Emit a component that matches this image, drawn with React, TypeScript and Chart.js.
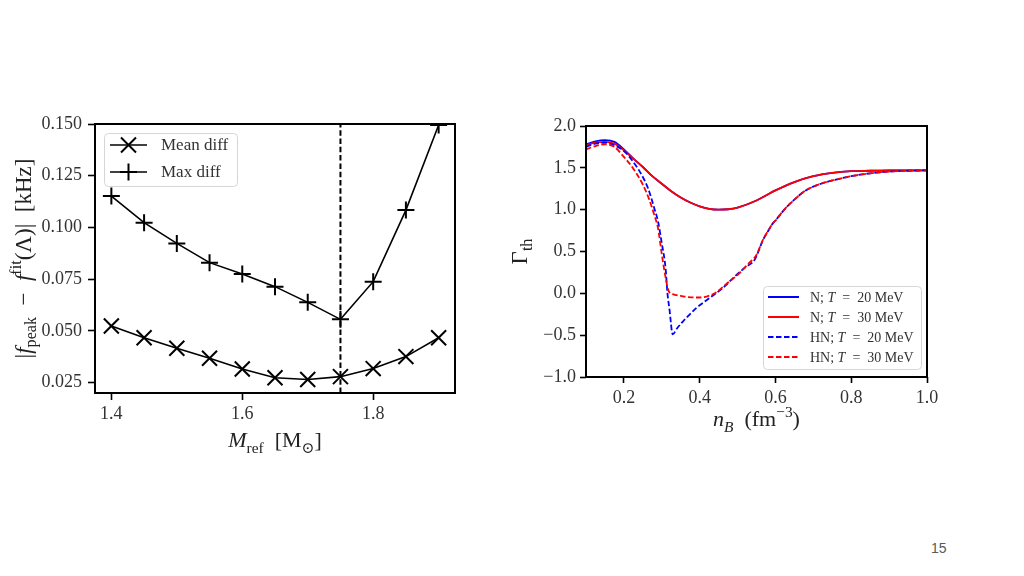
import React, { useEffect, useRef } from 'react';
import { Chart, registerables } from 'chart.js';
Chart.register(...registerables);

// ---------- Left chart data ----------
const mRef = [1.4, 1.45, 1.5, 1.55, 1.6, 1.65, 1.7, 1.75, 1.8, 1.85, 1.9];
const meanDiff = [0.0524, 0.0467, 0.0416, 0.0368, 0.0316, 0.0274, 0.0265, 0.0279, 0.0318, 0.0376, 0.0467];
const maxDiff = [0.1152, 0.1023, 0.0923, 0.083, 0.0775, 0.0714, 0.0638, 0.0556, 0.0738, 0.1084, 0.1495];
const mCut = 1.75;
const leftXRange = [1.375, 1.925];
const leftYRange = [0.02, 0.15];
const leftXTicks = [1.4, 1.6, 1.8];
const leftXLabels = ['1.4', '1.6', '1.8'];
const leftYTicks = [0.025, 0.05, 0.075, 0.1, 0.125, 0.15];
const leftYLabels = ['0.025', '0.050', '0.075', '0.100', '0.125', '0.150'];

// ---------- Right chart data ----------
const nbN = [0.1, 0.125, 0.15, 0.175, 0.2, 0.225, 0.25, 0.275, 0.3, 0.325, 0.35, 0.375, 0.4, 0.425, 0.45, 0.475, 0.5, 0.55, 0.6, 0.65, 0.7, 0.75, 0.8, 0.85, 0.9, 0.95, 1.0];
const gammaN20 = [1.78, 1.815, 1.83, 1.81, 1.72, 1.61, 1.51, 1.4, 1.31, 1.22, 1.145, 1.085, 1.04, 1.01, 1.0, 1.005, 1.025, 1.11, 1.23, 1.33, 1.4, 1.44, 1.46, 1.465, 1.47, 1.47, 1.47];
const gammaN30 = [1.77, 1.8, 1.81, 1.79, 1.71, 1.61, 1.51, 1.4, 1.31, 1.22, 1.145, 1.085, 1.04, 1.01, 1.0, 1.005, 1.025, 1.11, 1.23, 1.33, 1.4, 1.44, 1.46, 1.465, 1.47, 1.47, 1.47];
const nbHN20 = [0.1, 0.125, 0.15, 0.175, 0.2, 0.225, 0.25, 0.265, 0.28, 0.29, 0.3, 0.31, 0.315, 0.32, 0.329, 0.34, 0.355, 0.37, 0.39, 0.41, 0.434, 0.46, 0.49, 0.52, 0.545, 0.555, 0.567, 0.58, 0.593, 0.6, 0.625, 0.65, 0.68, 0.72, 0.76, 0.8, 0.85, 0.9, 0.95, 1.0];
const gammaHN20 = [1.75, 1.79, 1.8, 1.77, 1.7, 1.57, 1.39, 1.24, 1.02, 0.86, 0.6, 0.3, 0.0, -0.18, -0.49, -0.42, -0.34, -0.27, -0.18, -0.11, -0.03, 0.06, 0.19, 0.31, 0.4, 0.5, 0.636, 0.74, 0.836, 0.87, 1.01, 1.12, 1.23, 1.31, 1.36, 1.4, 1.435, 1.455, 1.465, 1.47];
const nbHN30 = [0.1, 0.125, 0.15, 0.175, 0.2, 0.225, 0.25, 0.267, 0.28, 0.29, 0.3, 0.31, 0.318, 0.329, 0.35, 0.37, 0.4, 0.42, 0.44, 0.47, 0.5, 0.53, 0.55, 0.567, 0.58, 0.593, 0.6, 0.625, 0.65, 0.68, 0.72, 0.76, 0.8, 0.85, 0.9, 0.95, 1.0];
const gammaHN30 = [1.72, 1.76, 1.78, 1.75, 1.63, 1.49, 1.3, 1.12, 0.94, 0.78, 0.47, 0.19, 0.03, -0.01, -0.03, -0.045, -0.05, -0.035, 0.0, 0.11, 0.22, 0.36, 0.46, 0.64, 0.74, 0.836, 0.87, 1.01, 1.12, 1.23, 1.31, 1.36, 1.4, 1.435, 1.455, 1.465, 1.47];
const rightXRange = [0.1, 1.0];
const rightYRange = [-1.0, 2.0];
const rightXTicks = [0.2, 0.4, 0.6, 0.8, 1.0];
const rightXLabels = ['0.2', '0.4', '0.6', '0.8', '1.0'];
const rightYTicks = [-1.0, -0.5, 0.0, 0.5, 1.0, 1.5, 2.0];
const rightYLabels = ['\u22121.0', '\u22120.5', '0.0', '0.5', '1.0', '1.5', '2.0'];
const rightLegend = ['N', 'N', 'HN', 'HN'];
const rightTemps = ['20', '30', '20', '30'];

const SERIF = "'Liberation Serif', 'DejaVu Serif', serif";

type Seg = { t: string; it?: boolean; sub?: boolean; sup?: boolean };

function drawRich(ctx: CanvasRenderingContext2D, segs: Seg[], size: number, cx: number, cy: number, rotate: boolean, color: string, align: 'center' | 'left' = 'center') {
  ctx.save();
  ctx.translate(cx, cy);
  if (rotate) ctx.rotate(-Math.PI / 2);
  const fontFor = (s: Seg) => `${s.it ? 'italic ' : ''}${s.sub || s.sup ? size * 0.7 : size}px ${SERIF}`;
  let total = 0;
  const widths = segs.map((s) => {
    ctx.font = fontFor(s);
    const w = ctx.measureText(s.t).width;
    total += w;
    return w;
  });
  let x = align === 'center' ? -total / 2 : 0;
  ctx.fillStyle = color;
  ctx.textBaseline = 'alphabetic';
  ctx.textAlign = 'left';
  const baseY = size * 0.33;
  segs.forEach((s, i) => {
    ctx.font = fontFor(s);
    const dy = s.sub ? size * 0.25 : s.sup ? -size * 0.42 : 0;
    ctx.fillText(s.t, x, baseY + dy);
    x += widths[i];
  });
  ctx.restore();
}

function roundRect(ctx: CanvasRenderingContext2D, x: number, y: number, w: number, h: number, r: number) {
  ctx.beginPath();
  ctx.moveTo(x + r, y);
  ctx.lineTo(x + w - r, y);
  ctx.arcTo(x + w, y, x + w, y + r, r);
  ctx.lineTo(x + w, y + h - r);
  ctx.arcTo(x + w, y + h, x + w - r, y + h, r);
  ctx.lineTo(x + r, y + h);
  ctx.arcTo(x, y + h, x, y + h - r, r);
  ctx.lineTo(x, y + r);
  ctx.arcTo(x, y, x + r, y, r);
  ctx.closePath();
}

function axisCommon(range: number[], ticks: number[], labels: string[], tickLen: number, pad: number, fit: (s: any) => void) {
  return {
    type: 'linear' as const,
    min: range[0],
    max: range[1],
    afterBuildTicks: (s: any) => {
      s.ticks = ticks.map((v) => ({ value: v }));
    },
    afterFit: fit,
    border: { display: false },
    grid: { drawOnChartArea: false, drawTicks: true, tickLength: tickLen, tickWidth: 1.6, tickColor: '#000' },
    ticks: {
      padding: pad,
      color: '#333',
      font: { family: SERIF, size: 18 },
      maxRotation: 0,
      autoSkip: false,
      callback: (_v: any, i: number) => labels[i],
    },
  };
}

function LeftChart() {
  const ref = useRef<HTMLCanvasElement>(null);
  useEffect(() => {
    const framePlugin = {
      id: 'leftDecor',
      afterDatasetsDraw(chart: any) {
        const { ctx, chartArea: a } = chart;
        ctx.save();
        ctx.strokeStyle = '#000';
        ctx.lineWidth = 2;
        ctx.strokeRect(a.left, a.top, a.right - a.left, a.bottom - a.top);
        // legend
        const bx = a.left + 9, by = a.top + 9, bw = 133, bh = 53;
        roundRect(ctx, bx + 0.5, by + 0.5, bw, bh, 4);
        ctx.fillStyle = 'rgba(255,255,255,0.85)';
        ctx.fill();
        ctx.strokeStyle = '#d6d6d6';
        ctx.lineWidth = 1;
        ctx.stroke();
        const rows = [
          { y: by + 12, label: 'Mean diff', style: 'x' },
          { y: by + 39, label: 'Max diff', style: '+' },
        ];
        rows.forEach((r) => {
          ctx.strokeStyle = '#000';
          ctx.lineWidth = 1.6;
          ctx.beginPath();
          ctx.moveTo(bx + 6, r.y);
          ctx.lineTo(bx + 43, r.y);
          ctx.stroke();
          const mx = bx + 24.5;
          ctx.lineWidth = 2;
          ctx.beginPath();
          if (r.style === 'x') {
            const d = 7.5;
            ctx.moveTo(mx - d, r.y - d);
            ctx.lineTo(mx + d, r.y + d);
            ctx.moveTo(mx - d, r.y + d);
            ctx.lineTo(mx + d, r.y - d);
          } else {
            const d = 8.5;
            ctx.moveTo(mx - d, r.y);
            ctx.lineTo(mx + d, r.y);
            ctx.moveTo(mx, r.y - d);
            ctx.lineTo(mx, r.y + d);
          }
          ctx.stroke();
          ctx.fillStyle = '#333';
          ctx.font = `17px ${SERIF}`;
          ctx.textAlign = 'left';
          ctx.textBaseline = 'middle';
          ctx.fillText(r.label, bx + 57, r.y + 1);
        });
        ctx.restore();
        // axis titles
        const cxMid = (a.left + a.right) / 2;
        const cyMid = (a.top + a.bottom) / 2;
        drawRich(ctx, [
          { t: '|' },
          { t: 'f', it: true },
          { t: 'peak', sub: true },
          { t: '  \u2212  ' },
          { t: 'f', it: true },
          { t: 'fit', sup: true },
          { t: '(\u039B)|  [kHz]' },
        ], 23, a.left - 72, cyMid, true, '#222');
        drawRich(ctx, [
          { t: 'M', it: true },
          { t: 'ref', sub: true },
          { t: '  [M' },
          { t: '\u2299', sub: true },
          { t: ']' },
        ], 22, cxMid, a.bottom + 47, false, '#222');
      },
    };
    const chart = new Chart(ref.current!, {
      type: 'line',
      data: {
        datasets: [
          {
            label: 'Mean diff',
            data: mRef.map((m, i) => ({ x: m, y: meanDiff[i] })),
            borderColor: '#000',
            backgroundColor: '#000',
            borderWidth: 1.6,
            pointStyle: 'crossRot',
            pointRadius: 10.6,
            pointBorderWidth: 2,
            pointBorderColor: '#000',
            tension: 0,
            clip: 0,
          },
          {
            label: 'Max diff',
            data: mRef.map((m, i) => ({ x: m, y: maxDiff[i] })),
            borderColor: '#000',
            backgroundColor: '#000',
            borderWidth: 1.6,
            pointStyle: 'cross',
            pointRadius: 8.5,
            pointBorderWidth: 2,
            pointBorderColor: '#000',
            tension: 0,
            clip: 0,
          },
          {
            label: 'cut',
            data: [
              { x: mCut, y: leftYRange[0] },
              { x: mCut, y: leftYRange[1] },
            ],
            borderColor: '#000',
            borderWidth: 2,
            borderDash: [5.5, 2.8],
            pointRadius: 0,
            clip: 0,
          },
        ],
      },
      options: {
        responsive: false,
        animation: false,
        events: [],
        layout: { padding: { left: 0, right: 25, top: 24, bottom: 47 } },
        plugins: { legend: { display: false }, tooltip: { enabled: false } },
        scales: {
          x: axisCommon(leftXRange, leftXTicks, leftXLabels, 7, 3, (s: any) => { s.height = 40; }),
          y: axisCommon(leftYRange, leftYTicks, leftYLabels, 7, 6, (s: any) => { s.width = 95; }),
        },
      },
      plugins: [framePlugin],
    });
    return () => chart.destroy();
  }, []);
  return <canvas ref={ref} width={480} height={380} style={{ position: 'absolute', left: 0, top: 100 }} />;
}

function RightChart() {
  const ref = useRef<HTMLCanvasElement>(null);
  useEffect(() => {
    const colors = ['#0000ff', '#ff0000', '#0000ff', '#ff0000'];
    const dashes = [[], [], [5.5, 2.5], [5.5, 2.5]];
    const decor = {
      id: 'rightDecor',
      afterDatasetsDraw(chart: any) {
        const { ctx, chartArea: a } = chart;
        ctx.save();
        ctx.strokeStyle = '#000';
        ctx.lineWidth = 2;
        ctx.strokeRect(a.left, a.top, a.right - a.left, a.bottom - a.top);
        const bw = 158, bh = 83;
        const bx = a.right - 6 - bw, by = a.bottom - 8 - bh;
        roundRect(ctx, bx + 0.5, by + 0.5, bw, bh, 4);
        ctx.fillStyle = 'rgba(255,255,255,0.85)';
        ctx.fill();
        ctx.strokeStyle = '#d6d6d6';
        ctx.lineWidth = 1;
        ctx.stroke();
        for (let i = 0; i < 4; i++) {
          const y = by + 11 + i * 20;
          ctx.strokeStyle = colors[i];
          ctx.lineWidth = 2;
          ctx.setLineDash(dashes[i]);
          ctx.beginPath();
          ctx.moveTo(bx + 5, y);
          ctx.lineTo(bx + 36, y);
          ctx.stroke();
          ctx.setLineDash([]);
          drawRich(ctx, [
            { t: rightLegend[i] + '; ' },
            { t: 'T', it: true },
            { t: '  =  ' + rightTemps[i] + ' MeV' },
          ], 14, bx + 47, y, false, '#333', 'left');
        }
        ctx.restore();
        const cxMid = (a.left + a.right) / 2;
        const cyMid = (a.top + a.bottom) / 2;
        drawRich(ctx, [{ t: '\u0393' }, { t: 'th', sub: true }], 23, a.left - 67, cyMid, true, '#222');
        drawRich(ctx, [
          { t: 'n', it: true },
          { t: 'B', it: true, sub: true },
          { t: '  (fm' },
          { t: '\u22123', sup: true },
          { t: ')' },
        ], 22, cxMid, a.bottom + 42, false, '#222');
      },
    };
    const series = [
      { x: nbN, y: gammaN20 },
      { x: nbN, y: gammaN30 },
      { x: nbHN20, y: gammaHN20 },
      { x: nbHN30, y: gammaHN30 },
    ];
    const chart = new Chart(ref.current!, {
      type: 'line',
      data: {
        datasets: series.map((s, i) => ({
          label: String(i),
          data: s.x.map((v, j) => ({ x: v, y: s.y[j] })),
          borderColor: colors[i],
          borderWidth: 1.8,
          borderDash: dashes[i],
          pointRadius: 0,
          cubicInterpolationMode: 'monotone' as const,
          clip: 0,
          order: 3 - i,
        })),
      },
      options: {
        responsive: false,
        animation: false,
        events: [],
        layout: { padding: { left: 0, right: 33, top: 26, bottom: 43 } },
        plugins: { legend: { display: false }, tooltip: { enabled: false } },
        scales: {
          x: axisCommon(rightXRange, rightXTicks, rightXLabels, 6, 4, (s: any) => { s.height = 40; }),
          y: axisCommon(rightYRange, rightYTicks, rightYLabels, 6, 4, (s: any) => { s.width = 86; }),
        },
      },
      plugins: [decor],
    });
    return () => chart.destroy();
  }, []);
  return <canvas ref={ref} width={460} height={360} style={{ position: 'absolute', left: 500, top: 100 }} />;
}

export default function App() {
  return (
    <div style={{ position: 'fixed', left: 0, top: 0, width: 1024, height: 576, background: '#fff', overflow: 'hidden' }}>
      <LeftChart />
      <RightChart />
      <div style={{ position: 'absolute', left: 931, top: 540, font: "14px 'Liberation Sans', Arial, sans-serif", color: '#595959' }}>15</div>
    </div>
  );
}
